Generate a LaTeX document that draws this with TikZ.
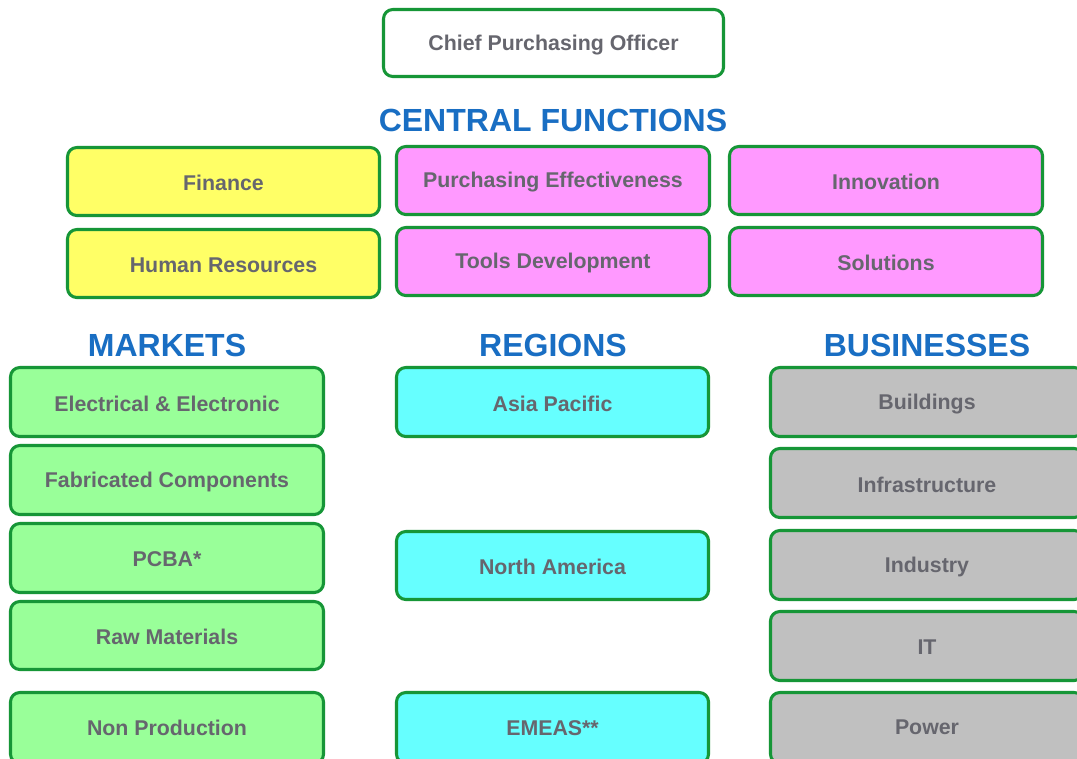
\documentclass[tikz,border=0pt]{standalone}
\usepackage{fontspec}
\setmainfont{Liberation Sans}
\definecolor{bordergreen}{RGB}{22,150,55}
\definecolor{titleblue}{RGB}{25,110,195}
\definecolor{textgray}{RGB}{102,102,110}
\definecolor{fyellow}{RGB}{255,255,102}
\definecolor{fpink}{RGB}{255,153,255}
\definecolor{fgreen}{RGB}{153,255,153}
\definecolor{fcyan}{RGB}{102,255,255}
\definecolor{fgray}{RGB}{192,192,192}
\tikzset{
  orgbox/.style={draw=bordergreen, line width=2.3pt, rounded corners=7pt,
    text=textgray, font=\fontsize{16}{19}\selectfont\bfseries, inner sep=0pt},
  grouptitle/.style={text=titleblue, font=\fontsize{24}{28}\selectfont\bfseries, inner sep=0pt}
}
\newcommand\ob[7]{%
  \node[orgbox, fill=#6, minimum width={(#4-#2-3)*0.75pt}, minimum height={(#5-#3-3)*0.75pt}]
    (#1) at ({(#2+#4)/2},{(#3+#5)/2}) {\vphantom{#7}\smash{\raisebox{-1.2pt}{#7}}};}
\begin{document}
\begin{tikzpicture}[x=0.75pt,y=-0.75pt]
\useasboundingbox (0,0) rectangle (1077,758);
\clip (0,0) rectangle (1077,758);
\fill[white] (0,0) rectangle (1077,758);
% top
\ob{cpo}{382}{8}{725}{78}{white}{Chief Purchasing Officer}
\node[grouptitle] (central) at (553,120) {CENTRAL FUNCTIONS};
\ob{fin}{66}{146}{381}{217}{fyellow}{Finance}
\ob{hr}{66}{228}{381}{299}{fyellow}{Human Resources}
\ob{pe}{395}{145}{711}{216}{fpink}{Purchasing Effectiveness}
\ob{td}{395}{226}{711}{297}{fpink}{Tools Development}
\ob{inn}{728}{145}{1044}{216}{fpink}{Innovation}
\ob{sol}{728}{226}{1044}{297}{fpink}{Solutions}
% titles
\node[grouptitle] (markets) at (167,345) {MARKETS};
\node[grouptitle] (regions) at (553,345) {REGIONS};
\node[grouptitle] (businesses) at (927,345) {BUSINESSES};
% markets
\ob{ee}{9}{366}{325}{438}{fgreen}{Electrical \& Electronic}
\ob{fc}{9}{444}{325}{516}{fgreen}{Fabricated Components}
\ob{pcba}{9}{522}{325}{594}{fgreen}{PCBA*}
\ob{rm}{9}{600}{325}{671}{fgreen}{Raw Materials}
\ob{np}{9}{691}{325}{765}{fgreen}{\raisebox{3pt}{Non Production}}
% regions
\ob{ap}{395}{366}{710}{438}{fcyan}{Asia Pacific}
\ob{na}{395}{530}{710}{601}{fcyan}{North America}
\ob{em}{395}{691}{710}{765}{fcyan}{\raisebox{3pt}{EMEAS**}}
% businesses
\ob{bu}{769}{366}{1085}{438}{fgray}{Buildings}
\ob{inf}{769}{447}{1085}{519}{fgray}{Infrastructure}
\ob{ind}{769}{529}{1085}{601}{fgray}{Industry}
\ob{it}{769}{610}{1085}{682}{fgray}{IT}
\ob{pw}{769}{691}{1085}{765}{fgray}{\raisebox{3pt}{Power}}
\end{tikzpicture}
\end{document}
